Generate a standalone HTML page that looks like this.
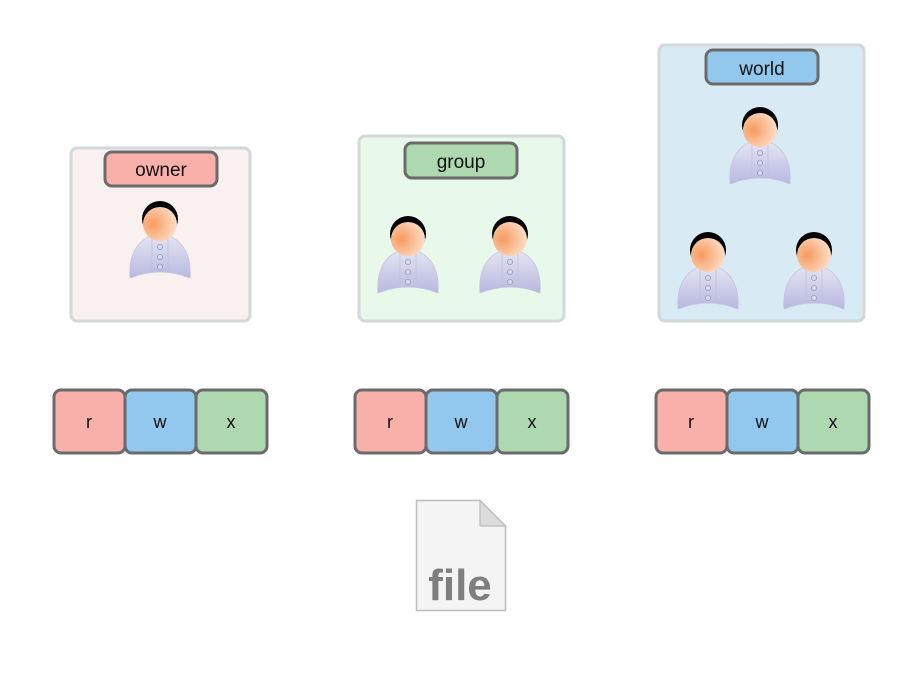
<!DOCTYPE html>
<html><head><meta charset="utf-8"><style>
html,body{margin:0;padding:0;background:#fff;}
svg{display:block;}
text{font-family:"Liberation Sans",sans-serif;}
</style></head><body>
<svg width="921" height="691" viewBox="0 0 921 691" xmlns="http://www.w3.org/2000/svg">
<defs>
<radialGradient id="face" cx="0.3" cy="0.5" r="0.8">
<stop offset="0" stop-color="#f79a5e"/><stop offset="1" stop-color="#fde8d6"/>
</radialGradient>
<linearGradient id="body" x1="0" y1="0" x2="0" y2="1">
<stop offset="0" stop-color="#e6e6f4"/><stop offset="1" stop-color="#b8b8e0"/>
</linearGradient>
<g id="person">
<path d="M-30,56 C-32,30 -20,14 0,12 C20,14 32,30 30,56 Q0,44 -30,56 Z" fill="url(#body)" stroke="#c4c4dc" stroke-width="0.8"/>
<rect x="-8" y="14" width="16" height="36" rx="3" fill="none" stroke="#c0c0d8" stroke-width="0.8"/>
<circle cx="0" cy="25" r="2.6" fill="#d8d8ec" stroke="#9a9ac0" stroke-width="0.8"/>
<circle cx="0" cy="35" r="2.6" fill="#d8d8ec" stroke="#9a9ac0" stroke-width="0.8"/>
<circle cx="0" cy="45" r="2.6" fill="#d8d8ec" stroke="#9a9ac0" stroke-width="0.8"/>
<circle cx="0" cy="-3" r="18" fill="#000"/>
<circle cx="0" cy="2" r="17" fill="url(#face)"/>
</g>
</defs>

<rect x="71" y="148" width="179" height="173" rx="6" fill="#f9f1f0" stroke="#d3d8db" stroke-width="3"/>
<rect x="359" y="136" width="205" height="185" rx="6" fill="#e8f8ea" stroke="#d3d8db" stroke-width="3"/>
<rect x="659" y="45" width="205" height="276" rx="6" fill="#d8ebf5" stroke="#d3d8db" stroke-width="3"/>

<rect x="105" y="152" width="112" height="34" rx="7" fill="#f9b0aa" stroke="#6b6b6b" stroke-width="3"/>
<text x="161" y="176" font-size="19" text-anchor="middle" fill="#111">owner</text>
<rect x="405" y="143" width="112" height="35" rx="7" fill="#aed8b0" stroke="#6b6b6b" stroke-width="3"/>
<text x="461" y="168" font-size="19" text-anchor="middle" fill="#111">group</text>
<rect x="706" y="50" width="112" height="34" rx="7" fill="#92c8ed" stroke="#6b6b6b" stroke-width="3"/>
<text x="762" y="75" font-size="19" text-anchor="middle" fill="#111">world</text>

<use href="#person" x="160" y="222"/>
<use href="#person" x="408" y="237"/>
<use href="#person" x="510" y="237"/>
<use href="#person" x="760" y="128"/>
<use href="#person" x="708" y="253"/>
<use href="#person" x="814" y="253"/>

<g stroke="#6b6b6b" stroke-width="3" font-size="18" text-anchor="middle" fill="#111">
<rect x="54" y="390" width="71" height="63" rx="7" fill="#f9b0aa"/>
<rect x="125" y="390" width="71" height="63" rx="7" fill="#92c8ed"/>
<rect x="196" y="390" width="71" height="63" rx="7" fill="#aed8b0"/>
<rect x="355" y="390" width="71" height="63" rx="7" fill="#f9b0aa"/>
<rect x="426" y="390" width="71" height="63" rx="7" fill="#92c8ed"/>
<rect x="497" y="390" width="71" height="63" rx="7" fill="#aed8b0"/>
<rect x="656" y="390" width="71" height="63" rx="7" fill="#f9b0aa"/>
<rect x="727" y="390" width="71" height="63" rx="7" fill="#92c8ed"/>
<rect x="798" y="390" width="71" height="63" rx="7" fill="#aed8b0"/>
</g>
<g font-size="18" text-anchor="middle" fill="#111">
<text x="89" y="428">r</text><text x="160" y="428">w</text><text x="231" y="428">x</text>
<text x="390" y="428">r</text><text x="461" y="428">w</text><text x="532" y="428">x</text>
<text x="691" y="428">r</text><text x="762" y="428">w</text><text x="833" y="428">x</text>
</g>

<path d="M416.5,500.5 H480 L505.5,526 V610.5 H416.5 Z" fill="#f4f4f4" stroke="#bdbdbd" stroke-width="1.5"/>
<path d="M480,500.5 V526 H505.5 Z" fill="#dcdcdc" stroke="#bdbdbd" stroke-width="1.2"/>
<text x="460" y="600" font-size="44" font-weight="bold" text-anchor="middle" fill="#7f7f7f">file</text>
</svg>
</body></html>
